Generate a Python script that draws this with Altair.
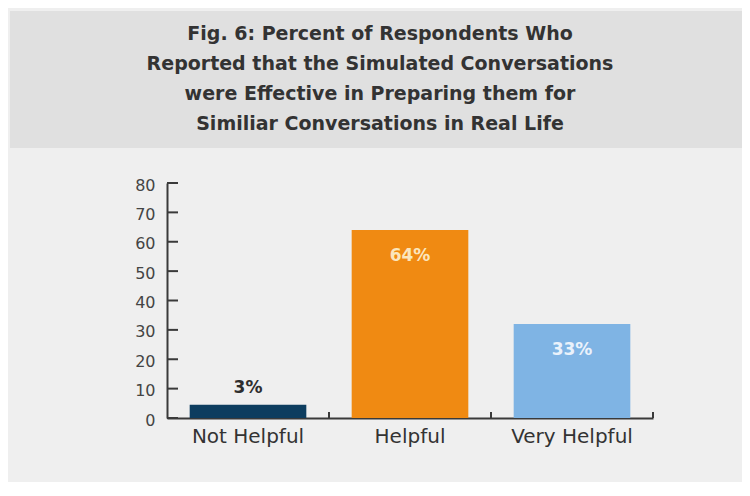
import altair as alt
import pandas as pd

categories = ["Not Helpful", "Helpful", "Very Helpful"]
bar_values = [4.5, 64, 32]
bar_labels = ["3%", "64%", "33%"]
bar_colors = ["#0d3d5f", "#f08a12", "#7fb4e4"]
y_ticks = [0, 10, 20, 30, 40, 50, 60, 70, 80]
title_lines = [
    "Fig. 6: Percent of Respondents Who",
    "Reported that the Simulated Conversations",
    "were Effective in Preparing them for",
    "Similiar Conversations in Real Life",
]

df = pd.DataFrame({"cat": categories, "value": bar_values, "label": bar_labels})
tick_df = pd.DataFrame({"tick": y_ticks})

FONT = "DejaVu Sans"
AX = "#3a3a3a"
PAD_IN = 0.28
W, H = 486, 235
STEP = W / len(categories)

x_scale = alt.Scale(paddingInner=PAD_IN, paddingOuter=PAD_IN / 2)
y_scale = alt.Scale(domain=[0, 80])

x_axis = alt.Axis(ticks=False, tickSize=0, domainColor=AX, domainWidth=2,
                  labelFont=FONT, labelFontSize=20, labelColor="#333333",
                  labelPadding=8, labelAngle=0, orient="bottom", title=None)
y_axis = alt.Axis(values=y_ticks, ticks=False, tickSize=0, grid=False,
                  domainColor=AX, domainWidth=2, labelFont=FONT,
                  labelFontSize=16, labelColor="#444444", labelPadding=12,
                  labelOverlap=False, labelOffset=2, orient="left", title=None)

base = alt.Chart(df)

band = alt.Chart(alt.Data(values=[{}])).mark_rect(color="#e0e0e0").encode(
    x=alt.value(-157), x2=alt.value(580), y=alt.value(-172), y2=alt.value(-35)
)

bars = base.mark_bar().encode(
    x=alt.X("cat:N", sort=categories, scale=x_scale, axis=x_axis),
    y=alt.Y("value:Q", scale=y_scale, axis=y_axis),
    color=alt.Color("cat:N", sort=categories,
                    scale=alt.Scale(domain=categories, range=bar_colors), legend=None),
)

# inward-pointing y ticks
y_tick_marks = alt.Chart(tick_df).mark_rule(color=AX, strokeWidth=2).encode(
    y=alt.Y("tick:Q", scale=y_scale, axis=y_axis),
    x=alt.value(0),
    x2=alt.value(11),
)

# upward x ticks at the right edge of each band
x_tick_marks = base.mark_rule(color=AX, strokeWidth=2, xOffset=STEP * PAD_IN / 2).encode(
    x=alt.X("cat:N", sort=categories, scale=x_scale, bandPosition=1, axis=x_axis),
    y=alt.value(H - 6),
    y2=alt.value(H),
)

outside = base.transform_filter(alt.datum.value < 10).mark_text(
    font=FONT, fontWeight="bold", fontSize=17, color="#2e2e2e", baseline="bottom", dy=-8
).encode(
    x=alt.X("cat:N", sort=categories, scale=x_scale, axis=x_axis),
    y=alt.Y("value:Q", scale=y_scale, axis=y_axis),
    text="label:N",
)

inside = base.transform_filter(alt.datum.value >= 10).mark_text(
    font=FONT, fontWeight="bold", fontSize=17, baseline="middle", dy=26
).encode(
    x=alt.X("cat:N", sort=categories, scale=x_scale, axis=x_axis),
    y=alt.Y("value:Q", scale=y_scale, axis=y_axis),
    text="label:N",
    color=alt.condition(alt.datum.cat == "Helpful", alt.value("#fbe6bd"), alt.value("#eaf2fb")),
)

chart = alt.layer(band, bars, y_tick_marks, x_tick_marks, outside, inside).properties(
    width=W,
    height=H,
    autosize=alt.AutoSizeParams(type="none"),
    padding={"left": 159, "top": 175, "right": 89, "bottom": 64},
    background="#efefef",
    title=alt.Title(text=title_lines, anchor="middle", font=FONT, fontWeight="bold",
                    fontSize=19, color="#333333", lineHeight=30, offset=-123, dx=-30),
).configure_view(stroke=None)

chart.save("out.html", embed_options={"renderer": "svg", "actions": False})
